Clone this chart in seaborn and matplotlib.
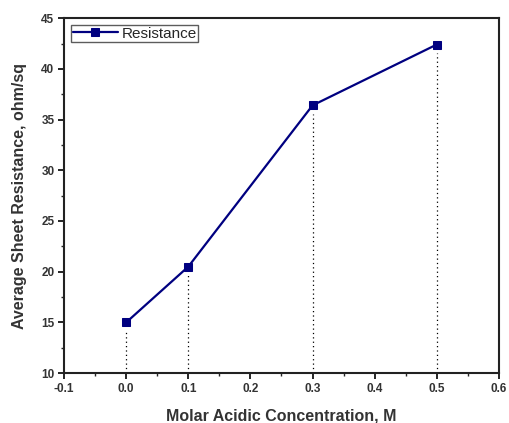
import matplotlib
matplotlib.use("Agg")
import matplotlib.pyplot as plt
from matplotlib.ticker import MultipleLocator
import seaborn as sns
import pandas as pd

# values
concentration = [0.0, 0.1, 0.3, 0.5]
resistance = [15.0, 20.5, 36.4, 42.4]

sns.set_style("ticks")
plt.rcParams['font.family'] = ['Liberation Sans', 'DejaVu Sans']
plt.rcParams['axes.unicode_minus'] = False

df = pd.DataFrame({"Concentration": concentration, "Resistance": resistance})

fig = plt.figure(figsize=(5.09, 4.23), dpi=100)
ax = fig.add_axes([0.126, 0.118, 0.854, 0.839])

# dotted drop lines from each point to the axis
ax.vlines(df["Concentration"], 10, df["Resistance"] - 0.8, colors="black",
          linestyles=(0, (1, 2.5)), linewidth=0.9, zorder=1)

sns.lineplot(data=df, x="Concentration", y="Resistance", color="#000080",
             marker="s", markersize=5.2, markeredgecolor="#000080",
             linewidth=1.6, label="Resistance", ax=ax, zorder=3)

ax.set_xlim(-0.1, 0.6)
ax.set_ylim(10, 45)
ax.xaxis.set_major_locator(MultipleLocator(0.1))
ax.xaxis.set_minor_locator(MultipleLocator(0.05))
ax.yaxis.set_major_locator(MultipleLocator(5))
ax.yaxis.set_minor_locator(MultipleLocator(2.5))
ax.tick_params(axis='both', which='major', direction='out', length=4, width=1.2,
               labelsize=8.5, colors="black", labelcolor="#333333", pad=3)
ax.tick_params(axis='both', which='minor', direction='out', length=2.5, width=1.0)
for lab in ax.get_xticklabels() + ax.get_yticklabels():
    lab.set_fontweight('bold')

for side in ["left", "bottom", "right", "top"]:
    ax.spines[side].set_visible(True)
    ax.spines[side].set_linewidth(1.5)
    ax.spines[side].set_color("#222222")

ax.set_xlabel("Molar Acidic Concentration, M", fontsize=11.5, fontweight='bold',
              color="#333333", labelpad=10)
ax.set_ylabel("Average Sheet Resistance, ohm/sq", fontsize=11.5, fontweight='bold',
              color="#333333", labelpad=10)

leg = ax.legend(loc='upper left', fontsize=11, frameon=True, fancybox=False,
                borderpad=0.1, handlelength=3.0, handletextpad=0.2,
                borderaxespad=0.45)
leg.get_frame().set_edgecolor("#333333")
leg.get_frame().set_linewidth(1.0)

plt.savefig("out.png", dpi=100)
